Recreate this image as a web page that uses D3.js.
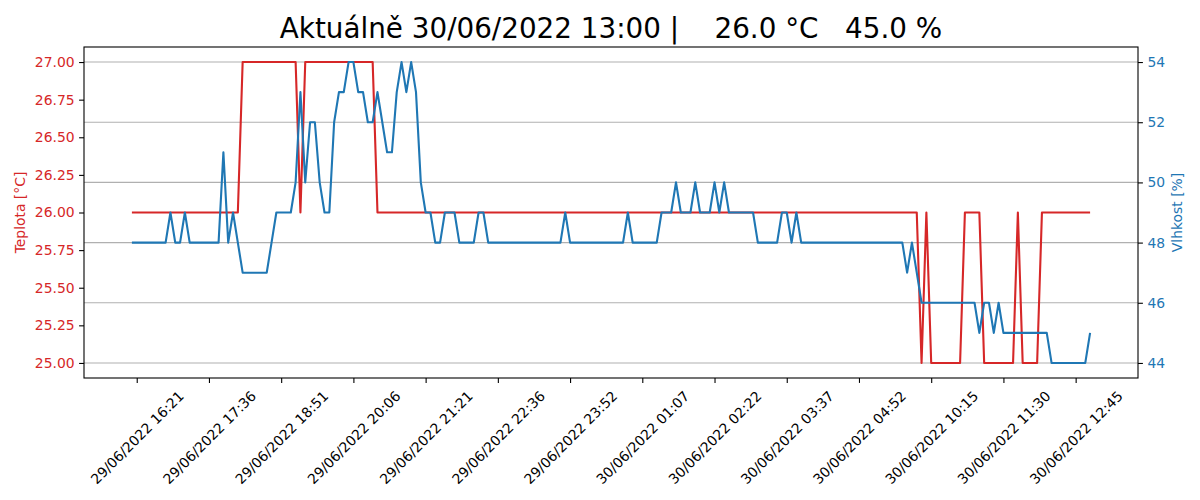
<!DOCTYPE html>
<html>
<head>
<meta charset="utf-8">
<script src="https://cdn.jsdelivr.net/npm/d3@7"></script>
<style>
    body { margin: 0; background: white; }
    text { font-family: 'DejaVu Sans', sans-serif; }
</style>
</head>
<body>
<div id="chart"></div>
<script>
// temperature readings, one every 5 minutes (index 0..199)
const teplota = [
    26,26,26,26,26,26,26,26,26,26, 26,26,26,26,26,26,26,26,26,26,
    26,26,26,27,27,27,27,27,27,27, 27,27,27,27,27,26,27,27,27,27,
    27,27,27,27,27,27,27,27,27,27, 27,26,26,26,26,26,26,26,26,26,
    26,26,26,26,26,26,26,26,26,26, 26,26,26,26,26,26,26,26,26,26,
    26,26,26,26,26,26,26,26,26,26, 26,26,26,26,26,26,26,26,26,26,
    26,26,26,26,26,26,26,26,26,26, 26,26,26,26,26,26,26,26,26,26,
    26,26,26,26,26,26,26,26,26,26, 26,26,26,26,26,26,26,26,26,26,
    26,26,26,26,26,26,26,26,26,26, 26,26,26,26,26,26,26,26,26,26,
    26,26,26,26,25,26,25,25,25,25, 25,25,25,26,26,26,26,25,25,25,
    25,25,25,25,26,25,25,25,25,26, 26,26,26,26,26,26,26,26,26,26
];

// humidity readings for the same points
const vlhkost = [
    48,48,48,48,48,48,48,48,49,48, 48,49,48,48,48,48,48,48,48,51,
    48,49,48,47,47,47,47,47,47,48, 49,49,49,49,50,53,50,52,52,50,
    49,49,52,53,53,54,54,53,53,52, 52,53,52,51,51,53,54,53,54,53,
    50,49,49,48,48,49,49,49,48,48, 48,48,49,49,48,48,48,48,48,48,
    48,48,48,48,48,48,48,48,48,48, 49,48,48,48,48,48,48,48,48,48,
    48,48,48,49,48,48,48,48,48,48, 49,49,49,50,49,49,49,50,49,49,
    49,50,49,50,49,49,49,49,49,49, 48,48,48,48,48,49,49,48,49,48,
    48,48,48,48,48,48,48,48,48,48, 48,48,48,48,48,48,48,48,48,48,
    48,47,48,47,46,46,46,46,46,46, 46,46,46,46,46,46,45,46,46,45,
    46,45,45,45,45,45,45,45,45,45, 45,44,44,44,44,44,44,44,44,45
];

// x tick labels, placed every 15 points starting at index 1
const tickIndex = [1, 16, 31, 46, 61, 76, 91, 106, 121, 136, 151, 166, 181, 196];
const tickLabels = [
    '29/06/2022 16:21', '29/06/2022 17:36', '29/06/2022 18:51', '29/06/2022 20:06',
    '29/06/2022 21:21', '29/06/2022 22:36', '29/06/2022 23:52', '30/06/2022 01:07',
    '30/06/2022 02:22', '30/06/2022 03:37', '30/06/2022 04:52', '30/06/2022 10:15',
    '30/06/2022 11:30', '30/06/2022 12:45'
];

const leftTicks = [25.0, 25.25, 25.5, 25.75, 26.0, 26.25, 26.5, 26.75, 27.0];
const rightTicks = [44, 46, 48, 50, 52, 54];

const titleText = 'Aktuálně 30/06/2022 13:00 |    26.0 °C   45.0 %';

const red = '#d62728',
      blue = '#1f77b4';

let width = 1200,
    height = 500;

let margin = { top: 47, bottom: 122, left: 84, right: 62 };

let svg = d3.select('#chart')
            .append('svg')
            .attr('width', width)
            .attr('height', height)
            .style('background', 'white');

let n = teplota.length;

// matplotlib style 5% margins on both scales
let xScale = d3.scaleLinear()
            .domain([-0.05 * (n - 1), 1.05 * (n - 1)])
            .range([margin.left, width - margin.right]);

let yLeft = d3.scaleLinear()
            .domain([24.9, 27.1])
            .range([height - margin.bottom, margin.top]);

let yRight = d3.scaleLinear()
            .domain([43.5, 54.5])
            .range([height - margin.bottom, margin.top]);

// grid lines come from the humidity axis
svg.append('g')
    .selectAll('line')
    .data(rightTicks)
    .enter()
    .append('line')
    .attr('x1', margin.left)
    .attr('x2', width - margin.right)
    .attr('y1', d => yRight(d))
    .attr('y2', d => yRight(d))
    .attr('stroke', '#b0b0b0')
    .attr('stroke-width', 1.1);

// temperature line
svg.append('path')
    .datum(teplota)
    .attr('fill', 'none')
    .attr('stroke', red)
    .attr('stroke-width', 2.1)
    .attr('stroke-linejoin', 'round')
    .attr('d', d3.line().x((d, i) => xScale(i)).y(d => yLeft(d)));

// humidity line
svg.append('path')
    .datum(vlhkost)
    .attr('fill', 'none')
    .attr('stroke', blue)
    .attr('stroke-width', 2.1)
    .attr('stroke-linejoin', 'round')
    .attr('d', d3.line().x((d, i) => xScale(i)).y(d => yRight(d)));

// frame of the axes
svg.append('rect')
    .attr('x', margin.left)
    .attr('y', margin.top)
    .attr('width', width - margin.left - margin.right)
    .attr('height', height - margin.top - margin.bottom)
    .attr('fill', 'none')
    .attr('stroke', 'black')
    .attr('stroke-width', 1.1);

function styleAxis(g, color) {
    g.select('.domain').remove();
    g.selectAll('.tick line').attr('stroke', 'black').attr('stroke-width', 1.1);
    g.selectAll('.tick text')
        .attr('fill', color)
        .style('font-size', '13.9px')
        .style('font-family', 'DejaVu Sans');
}

// left axis (temperature)
let leftAxis = svg.append('g')
    .attr('transform', `translate(${margin.left}, 0)`)
    .call(d3.axisLeft(yLeft).tickValues(leftTicks).tickFormat(d3.format('.2f'))
        .tickSize(4.9).tickPadding(4.5));
styleAxis(leftAxis, red);

// right axis (humidity)
let rightAxis = svg.append('g')
    .attr('transform', `translate(${width - margin.right}, 0)`)
    .call(d3.axisRight(yRight).tickValues(rightTicks).tickFormat(d3.format('d'))
        .tickSize(4.9).tickPadding(4.5));
styleAxis(rightAxis, blue);

// bottom axis with rotated date labels
let xAxis = svg.append('g')
    .attr('transform', `translate(0, ${height - margin.bottom})`)
    .call(d3.axisBottom(xScale).tickValues(tickIndex).tickFormat((d, i) => tickLabels[i])
        .tickSize(4.9));
styleAxis(xAxis, 'black');

// rotate each label 45 deg and center its bounding box under the tick
xAxis.selectAll('.tick text').each(function() {
    let t = d3.select(this);
    t.attr('y', 0).attr('dy', null).attr('text-anchor', 'middle');
    let w = this.getComputedTextLength();
    let h = 13.9 * 1.16;
    let s = (w + h) / Math.SQRT2;
    t.attr('transform', `translate(0, ${4.9 + 4.9 + s / 2}) rotate(-45)`)
     .attr('dy', '0.36em');
});

// axis labels
svg.append('text')
    .attr('x', -(margin.top + (height - margin.bottom)) / 2)
    .attr('y', 25)
    .attr('transform', 'rotate(-90)')
    .attr('text-anchor', 'middle')
    .attr('fill', red)
    .style('font-size', '13.9px')
    .text('Teplota [°C]');

svg.append('text')
    .attr('x', -(margin.top + (height - margin.bottom)) / 2)
    .attr('y', 1182)
    .attr('transform', 'rotate(-90)')
    .attr('text-anchor', 'middle')
    .attr('fill', blue)
    .style('font-size', '13.9px')
    .text('Vlhkost [%]');

// title
svg.append('text')
    .attr('x', (margin.left + width - margin.right) / 2)
    .attr('y', 38)
    .attr('text-anchor', 'middle')
    .style('font-size', '27.8px')
    .style('white-space', 'pre')
    .text(titleText);
</script>
</body>
</html>
